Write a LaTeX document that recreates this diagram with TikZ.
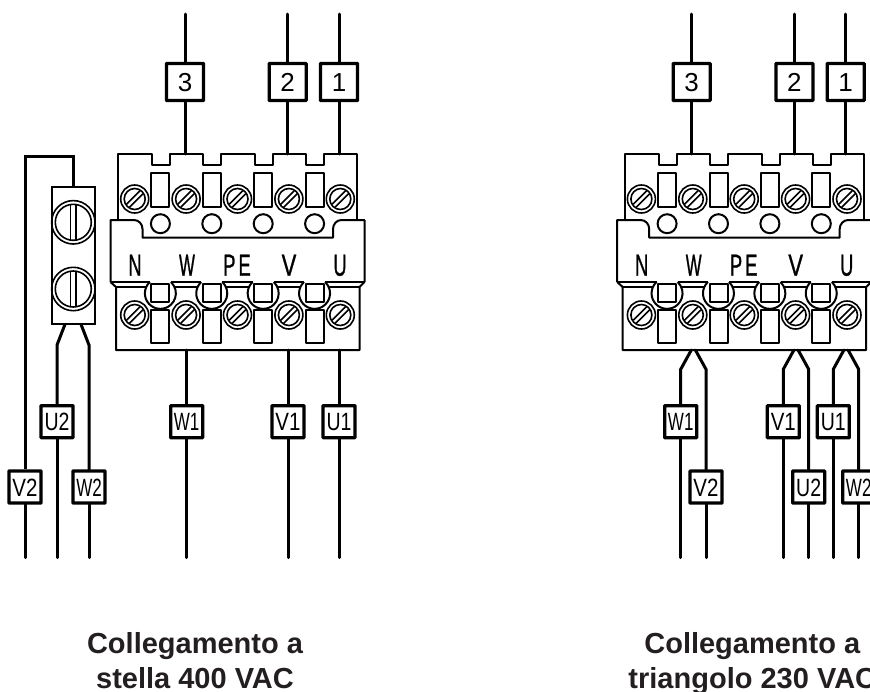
\documentclass[tikz,border=0pt]{standalone}
\usepackage{fontspec}
\setmainfont{Liberation Sans}
\newfontfamily\clampfont[BoldFont={Liberation Sans},BoldFeatures={FakeBold=1.2}]{Liberation Sans}
\definecolor{captioncol}{HTML}{231F20}
\tikzstyle{wire} = [-,line width=3pt,line cap=round]
\tikzstyle{outline} = [-,line width=2pt,line join=round]
\tikzstyle{fine} = [-,line width=1.6pt]
\tikzstyle{tag} = [draw,fill=white,line width=3.2pt,rectangle,rounded corners=.5pt,inner sep=0,minimum size=37pt,text height=19pt,text depth=0pt,font=\fontsize{26}{26}\selectfont]
\tikzstyle{smalltag} = [tag,minimum size=32pt,text height=18pt,font=\fontsize{25}{25}\selectfont]
\tikzstyle{clamp} = [inner sep=0,anchor=base,font=\fontsize{30.5}{30.5}\selectfont\clampfont\bfseries]
\tikzstyle{linkbar} = [draw,line width=2pt,rectangle,inner sep=0,minimum width=43pt,minimum height=136.5pt]
\tikzstyle{caption} = [inner sep=0,align=center,anchor=base,text=captioncol,font=\fontsize{29}{35}\selectfont\bfseries]
\def\nar#1#2{\scalebox{#1}[1]{#2}}
\def\terminalblock#1#2{
  \begin{scope}[xshift=#2pt]
    % top wires and their tags
    \foreach \n/\x in {3/185,2/287.7,1/339} {
      \node[tag] (#1t\n) at (\x,-82) {\n};
      \coordinate (#1up\n) at (\x,-14);
      \coordinate (#1in\n) at (\x,-154);
      \draw[wire] (#1up\n) -- (#1t\n);
      \draw[wire] (#1t\n) -- (#1in\n);
    }
    % upper part
    \draw[outline] (118,-220) -- (118,-154) -- (152,-154) -- (152,-165.3) -- (170,-165.3) -- (170,-154)
      -- (203.4,-154) -- (203.4,-165.3) -- (221.4,-165.3) -- (221.4,-154)
      -- (254.8,-154) -- (254.8,-165.3) -- (272.8,-165.3) -- (272.8,-154)
      -- (306.2,-154) -- (306.2,-165.3) -- (324.2,-165.3) -- (324.2,-154)
      -- (357,-154) -- (357,-220);
    % middle part
    \draw[outline] (110.5,-282) -- (110.5,-220) -- (134,-220) to[out=0,in=90] (142.5,-229) -- (142.5,-237.7)
      -- (333,-237.7) -- (333,-229) to[out=90,in=180] (341.5,-220) -- (364.5,-220) -- (364.5,-282);
    % lower part
    \draw[outline] (110.5,-282) -- (116,-287) -- (116,-350) -- (359.5,-350) -- (359.5,-287) -- (364.5,-282);
    \draw[outline] (110.5,-282) -- (149.8,-282);
    \draw[outline] (116,-287) -- (146.3,-287);
    \draw[outline] (325.2,-282) -- (364.5,-282);
    \draw[outline] (328.7,-287) -- (359.5,-287);
    \foreach \c in {160.4,211.8,263.2,314.6} {
      \draw[outline] (\c-9,-173.3) rectangle (\c+9,-206.7);
      \draw[outline] (\c,-223.7) circle (9.5pt);
      \draw[outline] (\c-9,-284) rectangle (\c+9,-302);
      \draw[outline] (\c-9,-310) rectangle (\c+9,-343);
      \draw[outline] (\c-10.6,-282) arc (133:407:15.5pt);
    }
    \foreach \c in {160.4,211.8,263.2} {
      \draw[outline] (\c+10.6,-282) -- (\c+40.8,-282);
      \draw[outline] (\c+14.1,-287) -- (\c+37.3,-287);
    }
    % screws
    \foreach \c in {134.7,186.1,237.5,288.9,340.3} {
      \foreach \y in {-199,-315} {
        \draw[fine] (\c,\y) circle (14pt);
        \draw[fine] (\c,\y) circle (10.5pt);
        \draw[fine] (\c-5.2,\y-8.2) -- (\c+8.2,\y+5.2);
        \draw[fine] (\c-8.2,\y-5.2) -- (\c+5.2,\y+8.2);
      }
    }
    % clamp names
    \node[clamp] (#1N) at (135,-275.7) {\nar{.6}{N}};
    \node[clamp] (#1W) at (187,-275.7) {\nar{.55}{W}};
    \node[clamp] (#1PE) at (237,-275.7) {\nar{.6}{P\,E}};
    \node[clamp] (#1V) at (289,-275.7) {\nar{.72}{V}};
    \node[clamp] (#1U) at (340,-275.7) {\nar{.6}{U}};
  \end{scope}
}

\begin{document}
\begin{tikzpicture}[x=1pt,y=1pt]
  \useasboundingbox (0,0) rectangle (870,-691);

  \terminalblock{l}{0}
  \terminalblock{r}{506.7}

  % star connection
  \node[linkbar] (link) at (73.3,-255.5) {};
  \foreach \y in {-222.3,-289} {
    \draw[fine] (73.3,\y) circle (21.7pt);
    \draw[fine] (73.3,\y) circle (18pt);
    \draw[fine] (70.4,\y+17.5) -- (70.4,\y-17.5);
    \draw[fine] (76.2,\y+17.5) -- (76.2,\y-17.5);
  }
  \coordinate (bend1) at (73.3,-156.7);
  \coordinate (bend2) at (25,-156.7);
  \coordinate (outa) at (65,-324.3);
  \coordinate (outb) at (81,-324.3);
  \coordinate (kinka) at (57,-345);
  \coordinate (kinkb) at (89,-345);
  \node[smalltag] (lU2) at (57,-421.7) {\nar{.78}{U2}};
  \node[smalltag] (lV2) at (25,-487) {\nar{.82}{V2}};
  \node[smalltag] (lW2) at (89,-487) {\nar{.68}{W2}};
  \node[smalltag] (lW1) at (186.7,-421.7) {\nar{.68}{W1}};
  \node[smalltag] (lV1) at (288,-421.7) {\nar{.82}{V1}};
  \node[smalltag] (lU1) at (339,-421.7) {\nar{.78}{U1}};
  \draw[wire,line cap=butt] (link.north) -- (bend1) -- (bend2) -- (lV2);
  \draw[wire] (outa) -- (kinka) -- (lU2);
  \draw[wire] (outb) -- (kinkb) -- (lW2);
  \foreach \n/\x in {V2/25,U2/57,W2/89,W1/186.7,V1/288,U1/339} {
    \coordinate (lend\n) at (\x,-557.7);
    \draw[wire] (l\n) -- (lend\n);
  }
  \coordinate (lout1) at (186.7,-350);
  \coordinate (lout2) at (288,-350);
  \coordinate (lout3) at (339,-350);
  \draw[wire] (lout1) -- (lW1);
  \draw[wire] (lout2) -- (lV1);
  \draw[wire] (lout3) -- (lU1);

  % delta connection
  \foreach \a/\b/\xa/\xb/\sa/\sb in {W1/V2/680.7/706/.68/.82,V1/U2/783.3/808.7/.82/.78,U1/W2/833.3/858.7/.78/.68} {
    \node[smalltag] (r\a) at (\xa,-421.7) {\nar{\sa}{\a}};
    \node[smalltag] (r\b) at (\xb,-487) {\nar{\sb}{\b}};
    \coordinate (rin\a) at (\xa+10.6,-350);
    \coordinate (rin\b) at (\xb-10.6,-350);
    \coordinate (rk\a) at (\xa,-369.3);
    \coordinate (rk\b) at (\xb,-369.3);
    \coordinate (rend\a) at (\xa,-557.7);
    \coordinate (rend\b) at (\xb,-557.7);
    \draw[wire] (rin\a) -- (rk\a) -- (r\a);
    \draw[wire] (rin\b) -- (rk\b) -- (r\b);
    \draw[wire] (r\a) -- (rend\a);
    \draw[wire] (r\b) -- (rend\b);
  }

  \node[caption] (capl) at (195,-688) {Collegamento a\\stella 400 VAC};
  \node[caption] (capr) at (752.3,-688) {Collegamento a\\triangolo 230 VAC};
\end{tikzpicture}
\end{document}
